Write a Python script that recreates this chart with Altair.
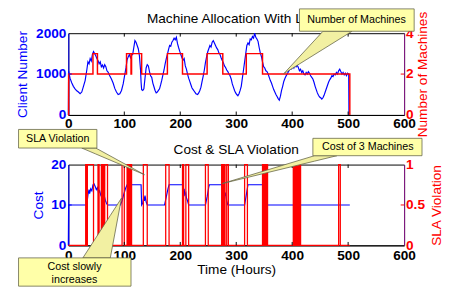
import altair as alt
import pandas as pd

# ---------------- data ----------------
client_hours = [0, 0.5, 3, 6, 9, 12, 15, 18, 21, 24, 27, 30, 33, 35, 37, 39, 41, 43, 45, 47,
                49, 51, 53, 55, 57, 59, 61, 63, 65, 67, 69, 71, 74, 77, 80, 83, 86, 89, 92, 95,
                98, 101, 103, 105, 107, 109, 111, 113, 115, 117, 119, 121, 123, 125, 127, 129, 130, 131, 133, 135,
                137, 139, 141, 143, 145, 147, 149, 151, 153, 155, 157, 159, 161, 163, 165, 167, 169, 171, 173, 175,
                177, 179, 181, 183, 185, 187, 189, 191, 193, 195, 197, 199, 201, 203, 205, 207, 209, 211, 213, 215,
                217, 219, 221, 223, 225, 228, 231, 233, 235, 237, 239, 241, 243, 245, 247, 249, 251, 253, 255, 257,
                259, 261, 263, 265, 267, 269, 271, 273, 275, 277, 279, 281, 283, 285, 287, 289, 291, 293, 295, 297,
                299, 301, 303, 305, 307, 309, 311, 313, 315, 317, 319, 321, 323, 325, 327, 329, 331, 333, 335, 337,
                339, 341, 343, 345, 347, 349, 351, 353, 355, 357, 359, 361, 363, 365, 367, 369, 371, 373, 375, 377,
                379, 381, 383, 385, 387, 389, 391, 393, 395, 397, 399, 401, 403, 405, 407, 409, 411, 413, 415, 417,
                419, 421, 423, 425, 427, 429, 431, 433, 435, 437, 439, 441, 443, 445, 447, 449, 451, 453, 455, 457,
                459, 461, 463, 465, 467, 469, 471, 473, 475, 477, 479, 481, 483, 485, 487, 489, 491, 493, 495, 497,
                499, 501, 501.5]
client_values = [0, 1070, 900, 790, 700, 640, 590, 560, 520, 560, 700, 840, 1100, 1300, 1250, 1380, 1320, 1480, 1550, 1500,
                 1450, 1380, 1330, 1250, 1300, 1180, 1220, 1150, 1230, 1180, 1080, 1050, 960, 880, 780, 650, 560, 500, 520, 600,
                 760, 1000, 1150, 1350, 1420, 1480, 1400, 1460, 1480, 1650, 1820, 1780, 1700, 1620, 1450, 1100, 800, 620, 600, 640,
                 900, 1150, 1230, 1200, 1060, 960, 920, 780, 690, 600, 540, 560, 600, 640, 740, 850, 980, 1100, 1250, 1380,
                 1480, 1600, 1700, 1680, 1780, 1820, 1880, 1840, 1900, 1750, 1650, 1560, 1480, 1400, 1340, 1380, 1200, 1120, 1000, 900,
                 820, 740, 660, 620, 580, 520, 500, 540, 600, 680, 820, 950, 1100, 1280, 1420, 1540, 1620, 1700, 1660, 1780,
                 1820, 1760, 1700, 1640, 1600, 1520, 1480, 1400, 1330, 1280, 1200, 1160, 1100, 1060, 1000, 960, 880, 760, 680, 600,
                 540, 500, 470, 520, 600, 700, 900, 1100, 1300, 1500, 1700, 1760, 1720, 1860, 1840, 1920, 1880, 2000, 1900, 1860,
                 1800, 1650, 1520, 1430, 1300, 1180, 1150, 1080, 1060, 1000, 920, 840, 780, 700, 620, 560, 500, 450, 400, 360,
                 460, 600, 700, 820, 890, 950, 1000, 1050, 1100, 1150, 1130, 1200, 1150, 1240, 1180, 1220, 1160, 1080, 1120, 1040,
                 1080, 1000, 980, 1040, 1000, 1060, 1020, 960, 920, 880, 800, 700, 620, 540, 480, 440, 420, 390, 420, 480,
                 560, 640, 720, 800, 860, 900, 960, 940, 1000, 980, 1040, 1000, 1080, 1120, 1060, 1000, 1040, 980, 1020, 960,
                 1020, 1000, 0]

machine_hours = [0, 0.5, 44, 52, 104, 112, 113, 131, 177, 204, 248, 276, 318, 347, 503]
machine_counts = [0, 2, 3, 2, 3, 2, 3, 2, 3, 2, 3, 2, 3, 2, 0]

cost_hours = [0, 0.5, 33, 35, 37, 38, 40, 42, 44, 46, 48, 50, 52, 54, 56, 58, 60, 62, 64, 66,
              68, 70, 93, 96, 99, 102, 105, 130, 131, 133, 135, 136, 137, 139, 141, 172, 175, 178, 180, 204,
              206, 207, 208, 210, 211, 213, 215, 245, 248, 251, 252, 275, 277, 278, 279, 281, 283, 285, 315, 318,
              321, 349, 350, 352, 353, 403, 405, 406, 407, 409, 411, 503]
cost_values = [0, 10, 10, 12.5, 13.8, 12.8, 14, 13.5, 15, 15.2, 14.6, 13.8, 14.3, 13, 13.5, 12.4, 12.9, 12, 12.4, 11.2,
               10.5, 10, 10, 11, 12.6, 14, 15, 15, 10, 10.5, 12, 11, 12.3, 10.8, 10, 10, 12, 14, 15, 15,
               13, 14, 12.5, 13, 11.8, 11, 10, 10, 12, 14.5, 15, 15, 13, 14, 12.2, 12.8, 11, 10, 10, 12.5,
               15, 15, 10, 11, 10, 10, 11.5, 11, 12, 10.5, 10, 10]

sla_on = [31, 34, 53, 59, 62, 65, 96, 105, 108, 112, 134, 174, 204, 210, 245, 274, 278, 283, 315, 347, 350, 354, 402, 405, 409, 413, 483]
sla_off = [33, 45, 55, 61, 64, 70, 100, 107, 110, 113, 141, 180, 206, 215, 250, 276, 280, 286, 320, 349, 352, 356, 404, 407, 411, 415, 486]
sla_end_hour = 503

x_ticks = [0, 100, 200, 300, 400, 500, 600]
client_ticks = [0, 1000, 2000]
machine_ticks = [0, 2, 4]
cost_ticks = [0, 10, 20]
sla_ticks = [0, 0.5, 1]

assert len(client_hours) == len(client_values)
assert len(cost_hours) == len(cost_values)

# ---------------- style ----------------
FONT = "Liberation Sans"
BLUE = "#0000FF"
RED = "#FF0000"
PURPLE = "#8B1A8B"
BOX_FILL = "#FFFFA8"
PTR_FILL = "#F2F0A2"
BOX_STROKE = "#66664A"
W, H_TOP, H_BOT = 345, 84, 83
TICK = 3.5
LABEL_EXPR = "format(datum.value, '~f')"

sla_x = [0]
sla_y = [0]
for s, e in zip(sla_on, sla_off):
    sla_x += [s, e]
    sla_y += [1, 0]
sla_x.append(sla_end_hour)
sla_y.append(0)


def pointer_df(tip, b1, b2):
    pts = sorted([tip, b1, b2], key=lambda p: p[0])
    (x0, y0), (x1, y1), (x2, y2) = pts
    y_other = y0 + (x1 - x0) / (x2 - x0) * (y2 - y0)
    return pd.DataFrame({"x": [x0, x1, x2], "y": [y0, y1, y2], "y2": [y0, y_other, y2]})


def x_enc(label_pad, title=None, title_y=None):
    kw = dict(values=x_ticks, ticks=False, grid=False, labelFontSize=14, labelFontWeight="bold",
              labelColor="black", labelPadding=label_pad, domainColor="black", domainWidth=1,
              labelFlush=False, labelOverlap=False, labelExpr=LABEL_EXPR, title=title)
    if title is not None:
        kw.update(titleFontSize=14, titleFontWeight="normal", titleColor="black",
                  titleBaseline="middle", titleY=title_y)
    return alt.X("x:Q", scale=alt.Scale(domain=[0, 600], nice=False), axis=alt.Axis(**kw))


def y_axis(orient, values, color, dom_color, title, title_x, title_y, pad):
    return alt.Axis(orient=orient, values=values, ticks=False, grid=False, labelFontSize=14,
                    labelFontWeight="bold", labelColor=color, labelPadding=pad, labelFlush=False,
                    labelOverlap=False, domainColor=dom_color, domainWidth=1, labelExpr=LABEL_EXPR,
                    title=title, titleColor=color, titleFontSize=14, titleFontWeight="normal",
                    titleAngle=270, titleAlign="center", titleBaseline="middle",
                    titleX=title_x, titleY=title_y)


def annot_layers(xe, ydomain, boxes, pointers, texts, tick_y, tick_y_right, ydomain_right, h):
    ysc = alt.Scale(domain=ydomain, nice=False)
    ysc_r = alt.Scale(domain=ydomain_right, nice=False)
    layers = []
    tdf = pd.DataFrame({"x": x_ticks[1:-1]})
    layers.append(alt.Chart(tdf).mark_rule(color="black", strokeWidth=1).encode(
        x=xe, y=alt.value(h), y2=alt.value(h - TICK)))
    layers.append(alt.Chart(tdf).mark_rule(color="black", strokeWidth=1).encode(
        x=xe, y=alt.value(0), y2=alt.value(TICK)))
    layers.append(alt.Chart(pd.DataFrame({"y": [tick_y]})).mark_rule(color=BLUE, strokeWidth=1).encode(
        x=alt.value(0), x2=alt.value(TICK), y=alt.Y("y:Q", scale=ysc, axis=None)))
    layers.append(alt.Chart(pd.DataFrame({"y": [tick_y_right]})).mark_rule(color=RED, strokeWidth=1).encode(
        x=alt.value(W), x2=alt.value(W - TICK), y=alt.Y("y:Q", scale=ysc_r, axis=None)))
    # panel title first (so callouts can cover it)
    tx, ty, tt, tsize = texts[0]
    layers.append(alt.Chart(pd.DataFrame({"x": [tx], "y": [ty], "t": [tt]})).mark_text(
        fontSize=tsize, color="black", align="center", baseline="middle", clip=False).encode(
        x=xe, y=alt.Y("y:Q", scale=ysc, axis=None), text="t:N"))
    for tip, b1, b2 in pointers:
        layers.append(alt.Chart(pointer_df(tip, b1, b2)).mark_area(
            fill=PTR_FILL, stroke=BOX_STROKE, strokeWidth=0.8, opacity=1, clip=False).encode(
            x=xe, y=alt.Y("y:Q", scale=ysc, axis=None), y2="y2:Q"))
    bdf = pd.DataFrame(boxes, columns=["x", "x2", "y", "y2"])
    layers.append(alt.Chart(bdf).mark_rect(fill=BOX_FILL, stroke=BOX_STROKE, strokeWidth=0.8, clip=False).encode(
        x=xe, x2="x2:Q", y=alt.Y("y:Q", scale=ysc, axis=None), y2="y2:Q"))
    tdf2 = pd.DataFrame(texts[1:], columns=["x", "y", "t", "s"])
    layers.append(alt.Chart(tdf2).mark_text(fontSize=11, color="black", align="center",
                                            baseline="middle", clip=False).encode(
        x=xe, y=alt.Y("y:Q", scale=ysc, axis=None), text="t:N"))
    return layers


# ---------------- top panel ----------------
xe_top = x_enc(2)
top_client = alt.Chart(pd.DataFrame({"x": client_hours, "y": client_values})).mark_line(
    color=BLUE, strokeWidth=1.2).encode(
    x=xe_top,
    y=alt.Y("y:Q", scale=alt.Scale(domain=[0, 2000], nice=False),
            axis=y_axis("left", client_ticks, BLUE, BLUE, "Client Number", -47, H_TOP / 2, 2.5)))
top_machines = alt.Chart(pd.DataFrame({"x": machine_hours, "y": machine_counts})).mark_line(
    color=RED, strokeWidth=1.5, interpolate="step-after").encode(
    x=xe_top,
    y=alt.Y("y:Q", scale=alt.Scale(domain=[0, 4], nice=False),
            axis=y_axis("right", machine_ticks, RED, PURPLE, "Number of Machines", 19.5, H_TOP / 2, 1.5)))

top_annots = annot_layers(
    xe_top, [0, 2000],
    boxes=[(413, 618, 2048, 2595)],
    pointers=[((385, 1010), (455, 2048), (507, 2048))],
    texts=[(300, 2357, "Machine Allocation With Load", 14),
           (515, 2320, "Number of Machines", 11)],
    tick_y=1000, tick_y_right=2, ydomain_right=[0, 4], h=H_TOP)

top = alt.layer(top_client, top_machines, *top_annots).resolve_scale(y="independent").properties(
    width=W, height=H_TOP)

# ---------------- bottom panel ----------------
xe_bot = x_enc(4, "Time (Hours)", 25)
bot_cost = alt.Chart(pd.DataFrame({"x": cost_hours, "y": cost_values})).mark_line(
    color=BLUE, strokeWidth=1.2).encode(
    x=xe_bot,
    y=alt.Y("y:Q", scale=alt.Scale(domain=[0, 20], nice=False),
            axis=y_axis("left", cost_ticks, BLUE, BLUE, "Cost", -31, H_BOT / 2, 2.5)))
bot_sla = alt.Chart(pd.DataFrame({"x": sla_x, "y": sla_y})).mark_line(
    color=RED, strokeWidth=1.3, interpolate="step-after").encode(
    x=xe_bot,
    y=alt.Y("y:Q", scale=alt.Scale(domain=[0, 1], nice=False),
            axis=y_axis("right", sla_ticks, RED, PURPLE, "SLA Violation", 33, H_BOT / 2, 1.5)))

bot_annots = annot_layers(
    xe_bot, [0, 20],
    boxes=[(-89, 51, 24.1, 28.7), (-89, 112, -10.1, -3.1), (437, 632, 22.2, 26.5)],
    pointers=[((136, 17.5), (24, 24.1), (49, 24.1)),
              ((95, 11.7), (26, -3.1), (75, -3.1)),
              ((275, 15.3), (440, 22.2), (480, 22.2))],
    texts=[(300, 23.6, "Cost & SLA Violation", 14),
           (-19, 26.4, "SLA Violation", 11),
           (11, -5.5, "Cost slowly", 11),
           (11, -8.6, "increases", 11),
           (535, 24.35, "Cost of 3 Machines", 11)],
    tick_y=10, tick_y_right=0.5, ydomain_right=[0, 1], h=H_BOT)

bottom = alt.layer(bot_cost, bot_sla, *bot_annots).resolve_scale(y="independent").properties(
    width=W, height=H_BOT)

chart = alt.vconcat(top, bottom, spacing=51, bounds="flush").properties(
    padding={"left": 7, "top": -4, "right": 0, "bottom": 0}
).configure(font=FONT).configure_view(stroke="black", strokeWidth=1)

chart.save("out.html", embed_options={"renderer": "svg", "actions": False})
